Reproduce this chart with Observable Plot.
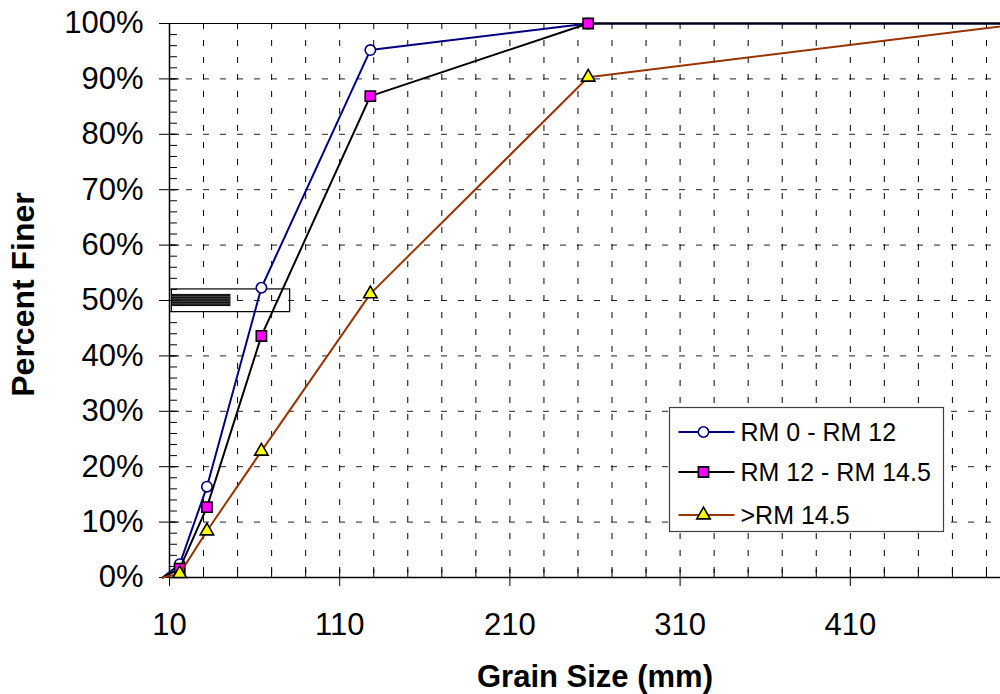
<!DOCTYPE html>
<html><head><meta charset="utf-8">
<script src="https://cdn.jsdelivr.net/npm/d3@7"></script>
<script src="https://cdn.jsdelivr.net/npm/@observablehq/plot@0.6"></script>
<style>
html,body{margin:0;padding:0;overflow:hidden;background:#fff;width:1000px;height:694px}
#chart{position:relative;width:1020px;height:694px}
</style></head><body><div id="chart"></div>
<script>
// ---- data ----
const grainSize = [6, 16, 32, 64, 128, 256, 512];
const seriesNames = ["RM 0 - RM 12", "RM 12 - RM 14.5", ">RM 14.5"];
const rm0to12   = [0, 2.4, 16.4, 52.3, 95.2, 100, 100];
const rm12to145 = [0, 1.6, 12.7, 43.6, 86.9, 100, 100];
const rmAbove145 = [0, 0.7, 8.4, 22.8, 51.2, 90.3, 100];
const xTickLabels = [10, 110, 210, 310, 410];
const yTickValues = [0, 10, 20, 30, 40, 50, 60, 70, 80, 90, 100];
// stray label box seen in the original (annotation)
const strayBox = [{x1: 11.4, x2: 80.9, y1: 47.9, y2: 52.0}];
const strayBar = [{x1: 11.6, x2: 46.1, y1: 48.9, y2: 51.1}];
const strayStripes = [49.4, 49.85, 50.3, 50.75];

// ---- styles ----
const colors = ["#000080", "#000000", "#993300"];
const fills = ["#ffffff", "#ff00ff", "#ffff00"];
const symbols = ["circle", "square", "triangle"];
const radii = [5.2, 5.8, 5];
const allSeries = [rm0to12, rm12to145, rmAbove145];

const xDomain = [10, 510];
const xMinor = d3.range(10, 511, 20);
const xGrid = d3.range(30, 511, 20);
const yMinor = d3.range(0, 101, 2);
const yGrid = yTickValues.filter(v => v > 0 && v < 100);

const seriesRows = allSeries.map((vals, s) =>
  vals.map((v, i) => ({series: seriesNames[s], size: grainSize[i], pct: v})));

const seriesMarks = [];
seriesRows.forEach((rows, s) => {
  seriesMarks.push(Plot.line(rows, {x: "size", y: "pct", stroke: colors[s], strokeWidth: 2}));
  seriesMarks.push(Plot.dot(rows.filter(d => d.size >= xDomain[0] && d.size <= xDomain[1]),
    {x: "size", y: "pct", symbol: () => symbols[s], r: radii[s], fill: fills[s],
     stroke: s === 0 ? colors[0] : "#000", strokeWidth: 1.6}));
});

const font = "'Liberation Sans', Arial, Helvetica, sans-serif";

const plot = Plot.plot({
  width: 1020, height: 694,
  marginLeft: 169, marginRight: 0, marginTop: 23, marginBottom: 117,
  style: {fontFamily: font, fontSize: "31px", color: "#000", background: "#fff", overflow: "visible"},
  x: {domain: xDomain, label: null},
  y: {domain: [0, 100], label: null},
  symbol: {type: "identity"},
  marks: [
    Plot.ruleX(xGrid, {stroke: "#000", strokeDasharray: "6,11"}),
    Plot.ruleY(yGrid, {stroke: "#222", strokeDasharray: "6,11"}),
    Plot.ruleY([100], {stroke: "#000"}),
    // stray box
    Plot.rect(strayBox, {x1: "x1", x2: "x2", y1: "y1", y2: "y2", fill: "none", stroke: "#000", strokeWidth: 1.2}),
    Plot.rect(strayBar, {x1: "x1", x2: "x2", y1: "y1", y2: "y2", fill: "#111"}),
    Plot.ruleY(strayStripes, {x1: strayBar[0].x1, x2: strayBar[0].x2, stroke: "#777", strokeWidth: 0.6}),
    // axis lines
    Plot.ruleY([0], {stroke: "#000", strokeWidth: 1.5}),
    Plot.ruleX([xDomain[0]], {stroke: "#000", strokeWidth: 1.5}),
    // x axis
    Plot.axisX({ticks: xTickLabels, tickSize: 9, tickPadding: 26, tickFormat: d => String(d), label: null, fontSize: 31}),
    Plot.axisX({ticks: xMinor, tickSize: -8, fill: null, label: null}),
    // y axis
    Plot.axisY({ticks: yTickValues, tickSize: 10, tickPadding: 16, tickFormat: d => d + "%", label: null, fontSize: 31}),
    Plot.axisY({ticks: yTickValues, tickSize: -10, fill: null, label: null}),
    Plot.axisY({ticks: yMinor, tickSize: -8, fill: null, label: null}),
    // titles
    Plot.text(["Grain Size (mm)"], {text: d => d, frameAnchor: "bottom", textAnchor: "middle", dy: 100, fontSize: 31, fontWeight: "bold", lineAnchor: "middle"}),
    Plot.text(["Percent Finer"], {text: d => d, frameAnchor: "left", textAnchor: "middle", dx: -146, dy: -6, rotate: -90, fontSize: 32, fontWeight: "bold", lineAnchor: "middle"}),
    ...seriesMarks
  ]
});

document.getElementById("chart").appendChild(plot);

// ---- legend (inside the svg) ----
const svg = d3.select(plot);
const lg = svg.append("g").attr("transform", "translate(669.5,407.5)");
lg.append("rect").attr("width", 274).attr("height", 124).attr("fill", "#fff").attr("stroke", "#404040").attr("stroke-width", 1.2);
const rowY = [24.5, 64.5, 107.5];
const d3sym = {circle: d3.symbolCircle, square: d3.symbolSquare, triangle: d3.symbolTriangle};
seriesNames.forEach((name, s) => {
  const g = lg.append("g").attr("transform", `translate(0,${rowY[s]})`);
  g.append("line").attr("x1", 9).attr("x2", 65).attr("stroke", colors[s]).attr("stroke-width", 2);
  g.append("path").attr("transform", "translate(34,0)")
    .attr("d", d3.symbol(d3sym[symbols[s]], Math.PI * radii[s] * radii[s])())
    .attr("fill", fills[s]).attr("stroke", s === 0 ? colors[0] : "#000").attr("stroke-width", 1.6);
  g.append("text").attr("x", 71).attr("dy", "0.36em").attr("font-size", 25).attr("font-family", font)
    .attr("text-anchor", "start").attr("fill", "#000").text(name);
});
</script></body></html>
